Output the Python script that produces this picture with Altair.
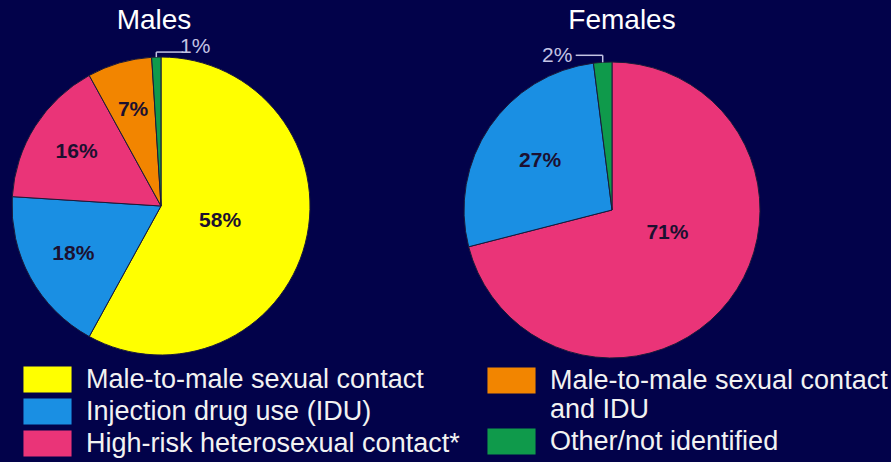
import math
import altair as alt
import pandas as pd

# ---------------- data ----------------
categories = [
    "Male-to-male sexual contact",
    "Injection drug use (IDU)",
    "High-risk heterosexual contact*",
    "Male-to-male sexual contact and IDU",
    "Other/not identified",
]
category_colors = ["#FFFF00", "#1A8FE3", "#EA3478", "#F28500", "#0F9A4B"]

males_categories = [
    "Male-to-male sexual contact",
    "Injection drug use (IDU)",
    "High-risk heterosexual contact*",
    "Male-to-male sexual contact and IDU",
    "Other/not identified",
]
males_pct = [58, 18, 16, 7, 1]

females_categories = [
    "High-risk heterosexual contact*",
    "Injection drug use (IDU)",
    "Other/not identified",
]
females_pct = [71, 27, 2]

panel_titles = ["Males", "Females"]

# ---------------- layout ----------------
W, H = 891, 462
BG = "#02024A"
M_CX, M_CY, M_R = 161, 206, 149
F_CX, F_CY, F_R = 612, 210, 148
FONT = "Liberation Sans"
SMALL_LABEL_COLOR = "#C4C4E4"


def frame(cats, pcts):
    return pd.DataFrame({
        "category": cats,
        "pct": pcts,
        "order": list(range(len(cats))),
        "label": [f"{p}%" for p in pcts],
    })


males = frame(males_categories, males_pct)
females = frame(females_categories, females_pct)

# wide swatch drawn by a symbol whose nominal (layout) size is its height
symbol_rect = "M-1.85,-1H1.85V1H-1.85Z"


def legend(values, x, y, label_expr=None):
    kw = dict(
        values=values, orient="none", legendX=x, legendY=y, title=None,
        direction="vertical", symbolType=symbol_rect, symbolSize=676,
        symbolStrokeWidth=0, symbolOpacity=1, labelFontSize=27,
        labelColor="#F2F2F2", labelFont=FONT, labelLimit=500,
        labelOffset=25, rowPadding=4,
    )
    if label_expr:
        kw["labelExpr"] = label_expr
    return alt.Legend(**kw)


def arcs(df, cx, cy, r, leg):
    return alt.Chart(df).mark_arc(radius=r, stroke="#1A1A3A", strokeWidth=1).encode(
        theta=alt.Theta("pct:Q", stack=True),
        color=alt.Color("category:N",
                        scale=alt.Scale(domain=categories, range=category_colors),
                        legend=leg),
        order=alt.Order("order:Q"),
        x=alt.value(cx), y=alt.value(cy),
    )


def labels(df, cx, cy, radius, cond, dx=0, dy=0, color="#1C1030", bold=True,
           size=21, align="center"):
    return alt.Chart(df).mark_text(
        radius=radius, font=FONT, fontSize=size,
        fontWeight="bold" if bold else "normal", color=color,
        align=align, baseline="middle", dx=dx, dy=dy,
    ).encode(
        theta=alt.Theta("pct:Q", stack=True),
        order=alt.Order("order:Q"),
        text=alt.condition(cond, "label:N", alt.value("")),
        x=alt.value(cx), y=alt.value(cy),
    )


multi = ("datum.label == 'Male-to-male sexual contact and IDU' ? "
         "['Male-to-male sexual contact', 'and IDU'] : datum.label")

males_arcs = arcs(males, M_CX, M_CY, M_R, legend(categories[:3], 34, 366))
females_arcs = arcs(females, F_CX, F_CY, F_R,
                    legend(categories[3:], 498, 367, multi))

mid_small = "datum.pct >= 5 && datum.pct < 50"
big = "datum.pct >= 50"
tiny = "datum.pct < 5"

layers = [
    males_arcs,
    females_arcs,
    labels(males, M_CX, M_CY, 100, mid_small),
    labels(males, M_CX, M_CY, 61, big),
    labels(females, F_CX, F_CY, 87, mid_small),
    labels(females, F_CX, F_CY, 60, big, dx=8, dy=-14),
    labels(males, M_CX, M_CY, M_R + 10, tiny, dx=24, color=SMALL_LABEL_COLOR,
           bold=False, size=21, align="left"),
    labels(females, F_CX, F_CY, F_R + 6, tiny, dx=-30, color=SMALL_LABEL_COLOR,
           bold=False, size=21, align="right"),
]

# leader lines derived from the slice geometry
m_ang = 2 * math.pi * (sum(males_pct) - males_pct[-1] / 2) / sum(males_pct)
f_ang = 2 * math.pi * (sum(females_pct) - females_pct[-1] / 2) / sum(females_pct)
m_x = M_CX + M_R * math.sin(m_ang)
m_top = M_CY - M_R * math.cos(m_ang)
f_x = F_CX + F_R * math.sin(f_ang)
f_top = F_CY - F_R * math.cos(f_ang)
leaders = pd.DataFrame({
    "x": [m_x, m_x, f_x - 27, f_x],
    "x2": [m_x, m_x + 27, f_x, f_x],
    "y": [m_top, m_top - 5, f_top - 7, f_top - 7],
    "y2": [m_top - 5, m_top - 5, f_top - 7, f_top],
})
layers.append(
    alt.Chart(leaders).mark_rule(color=SMALL_LABEL_COLOR, strokeWidth=1.5).encode(
        x=alt.X("x:Q", scale=None, axis=None),
        x2="x2:Q",
        y=alt.Y("y:Q", scale=None, axis=None),
        y2="y2:Q",
    )
)

title_x = [154, 622]
for t, tx in zip(panel_titles, title_x):
    layers.append(
        alt.Chart(pd.DataFrame({"t": [t]})).mark_text(
            font=FONT, fontSize=28, color="#FFFFFF", align="center",
            baseline="alphabetic",
        ).encode(text="t:N", x=alt.value(tx), y=alt.value(29))
    )

chart = alt.layer(*layers).resolve_scale(color="independent").properties(
    width=W, height=H, background=BG, padding=0,
    autosize=alt.AutoSizeParams(type="none"),
).configure_view(stroke=None)

chart.save("out.html", embed_options={"renderer": "svg", "actions": False})
